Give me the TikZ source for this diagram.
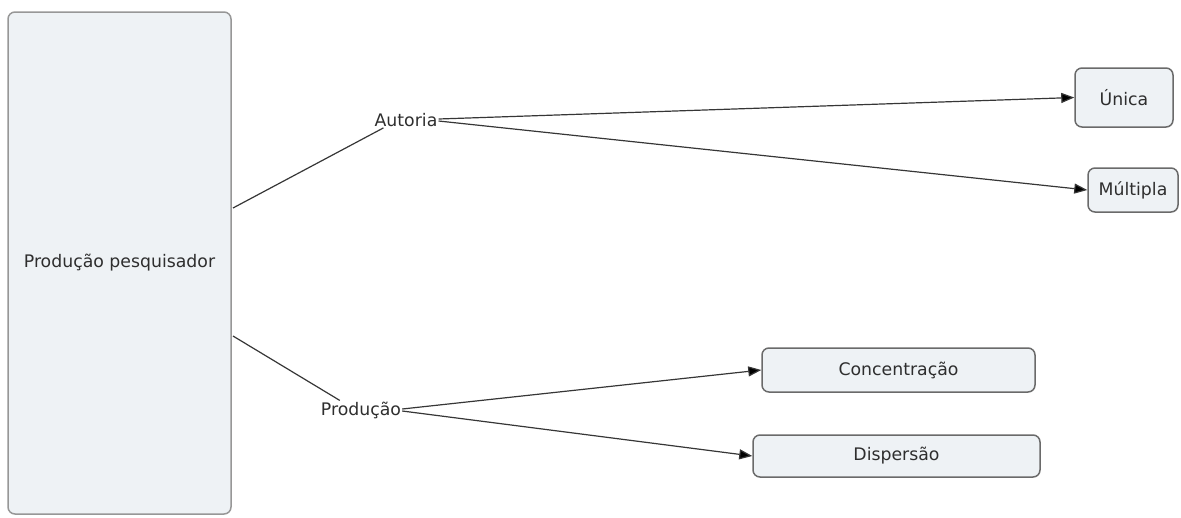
\documentclass[tikz,border=0pt]{standalone}
\usepackage{fontspec}
\setmainfont{DejaVu Sans}
\usetikzlibrary{arrows.meta}
\definecolor{boxfill}{HTML}{EEF2F5}
\definecolor{boxline}{HTML}{6A6A6A}
\definecolor{linkline}{HTML}{363636}
\definecolor{txt}{HTML}{2E2E2E}
\begin{document}
\begin{tikzpicture}[x=1pt,y=-1pt,
  concept/.style={draw=boxline,line width=1.5pt,fill=boxfill,rounded corners=7pt,
    text=txt,font=\fontsize{17.3}{20}\selectfont,inner sep=0pt},
  linkword/.style={text=txt,font=\fontsize{17.3}{20}\selectfont,inner sep=1pt},
  link/.style={draw=linkline,line width=1.2pt},
  arrowlink/.style={link,-{Triangle[length=13pt,width=10pt,fill=black]}}]
\useasboundingbox (0,0) rectangle (1181,517);
% concepts
\node[concept,minimum width=223pt,minimum height=502pt,draw=boxline!70] (pp) at (119.5,263) {Produção pesquisador};
\node[concept,minimum width=98pt,minimum height=59pt] (unica) at (1124,97.5) {Única};
\node[concept,minimum width=90pt,minimum height=44pt] (mult) at (1133,190) {Múltipla};
\node[concept,minimum width=273pt,minimum height=44pt] (conc) at (898.5,370) {Concentração};
\node[concept,minimum width=287pt,minimum height=42pt] (disp) at (896.5,456) {Dispersão};
% linking phrases
\node[linkword] (aut) at (406,120) {Autoria};
\node[linkword] (prod) at (361,410) {Produção};
% connections
\coordinate (ppA) at (233,208);
\coordinate (ppB) at (233,336);
\draw[link] (ppA) -- ([xshift=10pt]aut.south west);
\draw[link] (ppB) -- ([xshift=20pt]prod.north west);
\draw[arrowlink] ([yshift=1pt]aut.east) -- (unica.west);
\draw[arrowlink] ([yshift=-1pt]aut.east) -- (mult.west);
\draw[arrowlink] ([yshift=1pt]prod.east) -- (conc.west);
\draw[arrowlink] ([yshift=-1pt]prod.east) -- (disp.west);
\end{tikzpicture}
\end{document}
